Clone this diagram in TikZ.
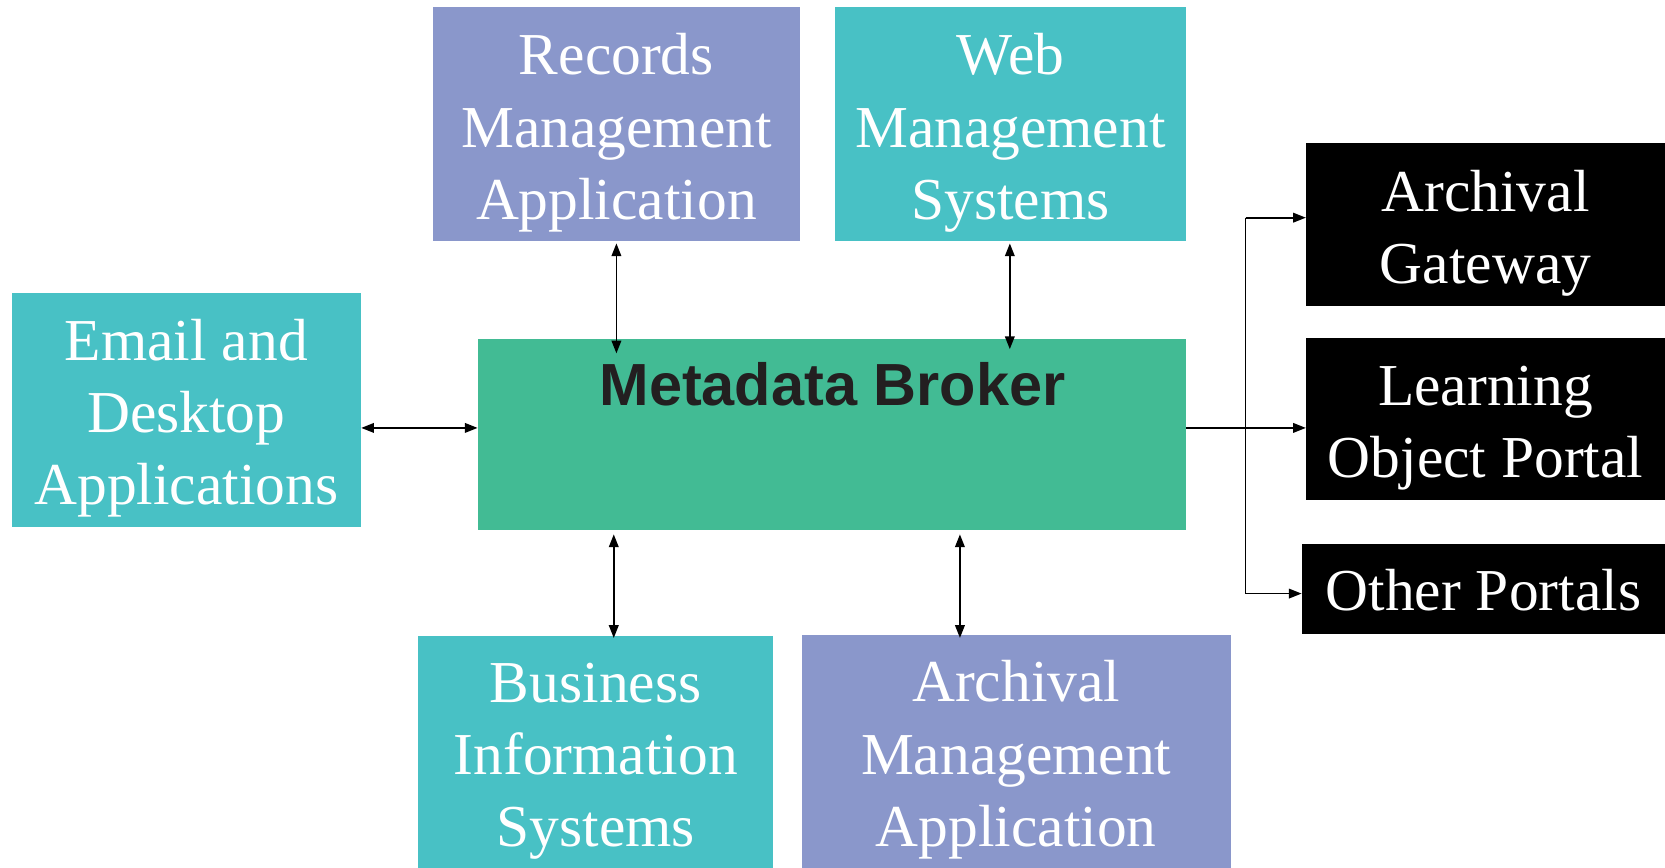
\documentclass[tikz,border=0pt]{standalone}
\usepackage{fontspec}
\setmainfont{Liberation Serif}
\newfontfamily\brokerfont{Liberation Sans}
\usetikzlibrary{arrows.meta,calc}

\definecolor{lavender}{RGB}{138,151,203}
\definecolor{teal}{RGB}{72,193,197}
\definecolor{broker}{RGB}{66,187,148}
\definecolor{inkgray}{RGB}{35,31,32}

% taller first line, pushes the text block down a little
\newcommand{\firstline}{\rule{0pt}{55pt}}

\tikzset{
  box/.style={inner sep=0pt, align=center, text=white,
    font=\fontsize{56}{68}\selectfont},
  link/.style={line width=1.7pt, {Triangle[length=12pt,width=9pt]}-{Triangle[length=12pt,width=9pt]}},
  oneway/.style={line width=1.7pt, -{Triangle[length=12pt,width=9pt]}}
}

\begin{document}
\begin{tikzpicture}[x=1pt,y=-1pt]
\useasboundingbox (0,0) rectangle (1568,817.4);
% sources
\node[box, fill=lavender, minimum width=345pt, minimum height=220pt] (records) at (580.5,117) {\firstline Records\\Management\\Application};
\node[box, fill=teal, minimum width=331pt, minimum height=220pt] (web) at (951.5,117) {\firstline Web\\Management\\Systems};
\node[box, fill=teal, minimum width=329pt, minimum height=220pt] (email) at (175.5,386) {\firstline Email and\\Desktop\\Applications};
\node[box, fill=teal, minimum width=334pt, minimum height=218pt] (business) at (561,708) {\firstline Business\\Information\\Systems};
\node[box, fill=lavender, minimum width=404pt, minimum height=219pt] (archmgmt) at (957,707.5) {\firstline Archival\\Management\\Application};
% broker
\node[box, fill=broker, minimum width=667pt, minimum height=180pt] (broker) at (783.5,409) {};
\node[font=\brokerfont\bfseries\fontsize{56}{68}\selectfont, text=inkgray] (brokertitle) at ($(broker.north)+(0.5,43)$) {Metadata Broker};
% portals
\node[box, fill=black, minimum width=338pt, minimum height=153pt] (gateway) at (1399,211.5) {\firstline Archival\\Gateway};
\node[box, fill=black, minimum width=338pt, minimum height=153pt] (learning) at (1399,394.5) {\firstline Learning\\Object Portal};
\node[box, fill=black, minimum width=342pt, minimum height=85pt] (other) at (1397,554.5) {\rule{0pt}{41pt}Other Portals};

% two-way links
\draw[link] ($(records.south)+(0,2)$) -- ($(records.south |- broker.north)+(0,14)$);
\draw[link] ($(web.south)+(-0.5,2)$) -- ($(web.south |- broker.north)+(-0.5,10)$);
\draw[link] ($(email.east)+(0,17)$) -- ($(broker.west)+(0,-6)$);
\draw[link] ($(business.north)+(17,2)$) -- ($(business.north |- broker.south)+(17,4)$);
\draw[link] ($(archmgmt.north)+(-53,3)$) -- ($(archmgmt.north |- broker.south)+(-53,4)$);

% one-way links
\coordinate (split) at (1173,403);
\coordinate (topjoint) at (1173,205);
\coordinate (lowjoint) at (1173,559);
\draw[oneway] (broker.east |- split) -- (learning.west |- split);
\draw[oneway] (topjoint) -- (gateway.west |- topjoint);
\draw[oneway] (topjoint) -- (lowjoint) -- (other.west |- lowjoint);
\end{tikzpicture}
\end{document}
